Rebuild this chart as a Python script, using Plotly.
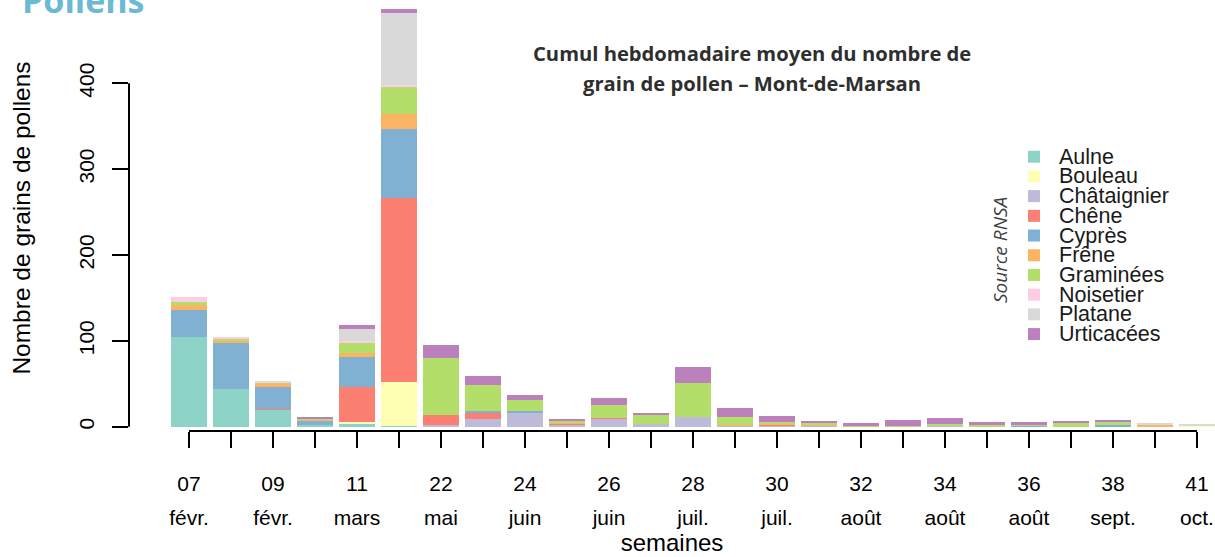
import plotly.graph_objects as go

# Semaines (numéro + mois) en abscisse
weeks = ["07", "08", "09", "10", "11", "12", "22", "23", "24", "25", "26", "27", "28",
         "29", "30", "31", "32", "33", "34", "35", "36", "37", "38", "39", "41"]
months = ["févr.", "févr.", "févr.", "mars", "mars", "mars", "mai", "juin", "juin", "juin",
          "juin", "juil.", "juil.", "juil.", "juil.", "août", "août", "août", "août", "août",
          "août", "sept.", "sept.", "sept.", "oct."]

# Cumul hebdomadaire moyen par taxon
aulne = [104, 44, 20, 2, 3, 1, 0, 0, 0, 0, 0, 0, 0, 0, 0, 0, 0, 0, 0, 0, 0, 0, 0, 0, 0]
bouleau = [0, 0, 0, 0, 3, 51, 0, 0, 0, 0, 0, 0, 0, 0, 0, 0, 0, 0, 0, 0, 0, 0, 0, 0, 1.2]
chataignier = [0, 0, 0, 0, 0, 0, 2, 9, 17, 3, 9, 3, 11, 1, 1, 1, 0, 0, 1, 0, 0, 0, 0, 0, 0]
chene = [0, 0, 1, 0, 40, 214, 12, 8, 0, 1, 1, 0, 0, 0, 1, 0, 0, 0, 0, 0, 0, 0, 0, 0, 0]
cypres = [32, 53, 25, 5, 35, 81, 0, 1, 1, 0, 0, 0, 0, 0, 0, 0, 0, 0, 0, 0, 1, 0, 2, 0, 0]
frene = [6, 3, 4, 1, 5, 17, 0, 0, 0, 1, 0, 0, 0, 1, 1, 1, 0, 0, 0, 0, 0, 0, 0, 2, 0]
graminees = [3, 2, 1, 1, 11, 32, 66, 31, 13, 2, 15, 11, 40, 9, 3, 2, 1, 1, 2, 2, 2, 4, 3, 0, 0]
noisetier = [6, 3, 2, 0, 3, 2, 0, 0, 0, 0, 0, 0, 0, 0, 0, 0, 0, 0, 0, 0, 0, 0, 0, 0, 0]
platane = [0, 0, 0, 0, 14, 84, 0, 0, 0, 0, 0, 0, 0, 0, 0, 0, 0, 0, 0, 0, 0, 0, 0, 1.5, 1.5]
urticacees = [0, 0, 0, 2, 5, 4, 15, 10, 6, 2, 8, 2, 18, 11, 7, 3, 3, 7, 7, 3, 2, 3, 3, 0, 0]

taxa = ["Aulne", "Bouleau", "Châtaignier", "Chêne", "Cyprès", "Frêne",
        "Graminées", "Noisetier", "Platane", "Urticacées"]
series = [aulne, bouleau, chataignier, chene, cypres, frene,
          graminees, noisetier, platane, urticacees]
colors = ["#8DD3C7", "#FFFFB3", "#BEBADA", "#FB8072", "#80B1D3", "#FDB462",
          "#B3DE69", "#FCCDE5", "#D9D9D9", "#BC80BD"]

yticks = [0, 100, 200, 300, 400]

FONT = "Liberation Sans"
idx = list(range(len(weeks)))
num_labels = [w if i % 2 == 0 else "" for i, w in enumerate(weeks)]
month_labels = [m if i % 2 == 0 else "" for i, m in enumerate(months)]

fig = go.Figure()
for name, vals, col in zip(taxa, series, colors):
    fig.add_trace(go.Bar(x=idx, y=vals, name=name, marker_color=col,
                         marker_line_width=0, width=0.86, showlegend=False))

# second bottom axis carrying the month row
fig.add_trace(go.Scatter(x=[None], y=[None], xaxis="x2", yaxis="y",
                         showlegend=False, hoverinfo="skip"))

# custom legend: squares + labels on a hidden subplot
fig.add_trace(go.Scatter(x=[0] * len(taxa), y=list(range(len(taxa))),
                         mode="markers", xaxis="x3", yaxis="y3",
                         marker=dict(symbol="square", size=12, color=colors),
                         showlegend=False, hoverinfo="skip"))

xrange = [-1.4286, 24.43]
annotations = []
for i, name in enumerate(taxa):
    annotations.append(dict(text=name, x=0, y=i, xref="x3", yref="y3",
                            xanchor="left", yanchor="middle", xshift=23,
                            showarrow=False,
                            font=dict(family=FONT, size=21.5, color="#1a1a1a")))

annotations += [
    dict(text="<b>Cumul hebdomadaire moyen du nombre de</b>", xref="paper", yref="paper",
         x=0.5737, y=0.8873, xanchor="center", yanchor="middle", showarrow=False,
         font=dict(family="Open Sans", size=20.2, color="#2e2e2e")),
    dict(text="<b>grain de pollen – Mont-de-Marsan</b>", xref="paper", yref="paper",
         x=0.5737, y=0.8169, xanchor="center", yanchor="middle", showarrow=False,
         font=dict(family="Open Sans", size=20.2, color="#2e2e2e")),
    dict(text="<i>Source RNSA</i>", xref="paper", yref="paper", x=0.802, y=0.4249,
         xanchor="center", yanchor="middle", textangle=-90, showarrow=False,
         font=dict(family="Open Sans", size=19, color="#404040")),
    dict(text="<b>Pollens</b>", xref="paper", yref="paper", x=-0.1, y=0.953,
         xanchor="left", yanchor="bottom", showarrow=False,
         font=dict(family="Open Sans", size=34, color="#6CB9D3")),
]

fig.update_layout(
    width=1215, height=557,
    margin=dict(l=129, r=0, t=5, b=126),
    barmode="stack",
    bargap=0,
    plot_bgcolor="rgba(0,0,0,0)", paper_bgcolor="white",
    font=dict(family=FONT, color="black"),
    xaxis=dict(range=xrange, tickmode="array", tickvals=idx, ticktext=num_labels,
               ticks="outside", ticklen=16, tickwidth=2, tickcolor="black",
               showline=False, showgrid=False, zeroline=False,
               ticklabelstandoff=18, tickfont=dict(family=FONT, size=21)),
    xaxis2=dict(range=xrange, overlaying="x", anchor="y", side="bottom",
                tickmode="array", tickvals=idx, ticktext=month_labels,
                ticks="", showline=False, showgrid=False, zeroline=False,
                ticklabelstandoff=72, tickfont=dict(family=FONT, size=21),
                title=dict(text="semaines", standoff=6,
                           font=dict(family=FONT, size=24))),
    yaxis=dict(range=[-5.01, 491.2], tickmode="array", tickvals=yticks,
               ticks="outside", ticklen=16, tickwidth=2, tickcolor="black",
               tickangle=-90, showline=False, showgrid=False, zeroline=False,
               ticklabelstandoff=10, tickfont=dict(family=FONT, size=21),
               title=dict(text="Nombre de grains de pollens", standoff=37,
                          font=dict(family=FONT, size=24.5))),
    xaxis3=dict(domain=[0, 1], anchor="y3", range=[-905, 181], visible=False),
    yaxis3=dict(domain=[0, 1], anchor="x3", range=[13.92, -7.70], visible=False),
    annotations=annotations,
    shapes=[
        dict(type="line", xref="x domain", yref="y", x0=0, x1=0, y0=0, y1=400,
             line=dict(color="black", width=2)),
        dict(type="line", xref="x", yref="y domain", x0=0, x1=len(weeks) - 1,
             y0=0, y1=0, line=dict(color="black", width=2)),
    ],
)

fig.write_html("out.html")
